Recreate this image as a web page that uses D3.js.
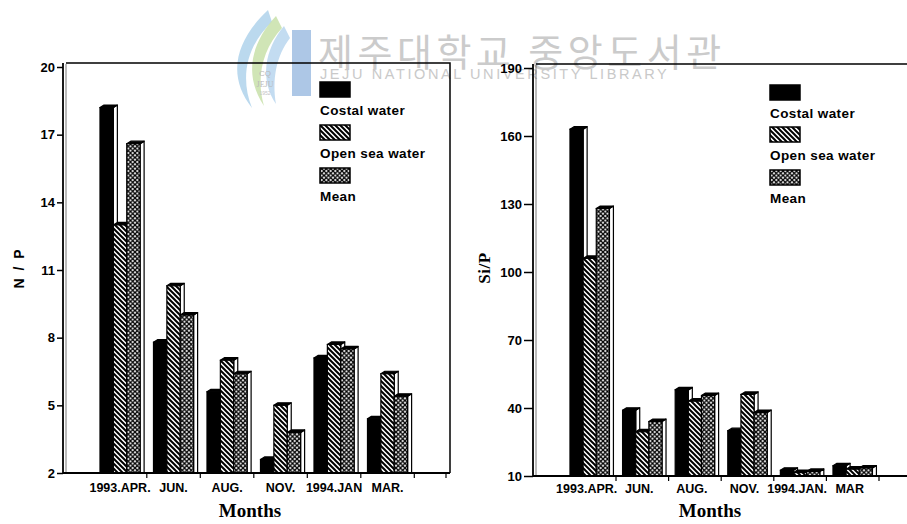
<!DOCTYPE html>
<html>
<head>
<meta charset="utf-8">
<script src="https://cdn.jsdelivr.net/npm/d3@7"></script>
<style>
  html, body { margin: 0; padding: 0; background: #fff; }
  svg { display: block; }
</style>
</head>
<body>
<svg id="chart" width="907" height="524"></svg>
<script>
// Sampling months (x categories) for each panel
const monthsNP = ["1993.APR.", "JUN.", "AUG.", "NOV.", "1994.JAN", "MAR."];
const monthsSi = ["1993.APR.", "JUN.", "AUG.", "NOV.", "1994.JAN.", "MAR"];
const seriesNames = ["Costal water", "Open sea water", "Mean"];

// N/P ratios
const npCostal = [18.2, 7.8, 5.6, 2.6, 7.1, 4.4];
const npOpen   = [13.0, 10.3, 7.0, 5.0, 7.7, 6.4];
const npMean   = [16.6, 9.0, 6.4, 3.8, 7.5, 5.4];

// Si/P ratios
const siCostal = [163, 39, 48, 30, 12.5, 14.5];
const siOpen   = [106, 29.5, 43, 46, 11.5, 13];
const siMean   = [128, 34, 45.5, 38, 12, 13.5];

// Y tick values
const npTicks = [2, 5, 8, 11, 14, 17, 20];
const siTicks = [10, 40, 70, 100, 130, 160, 190];

const svg = d3.select("#chart");
const defs = svg.append("defs");

// Fill patterns: solid, diagonal hatch, cross hatch
const hatch = defs.append("pattern").attr("id", "hatch")
  .attr("patternUnits", "userSpaceOnUse").attr("width", 5).attr("height", 5);
hatch.append("rect").attr("width", 5).attr("height", 5).attr("fill", "#fff");
hatch.append("path").attr("d", "M-1,-1L6,6M-1,4L1,6M4,-1L6,1")
  .attr("stroke", "#000").attr("stroke-width", 2);

const cross = defs.append("pattern").attr("id", "cross")
  .attr("patternUnits", "userSpaceOnUse").attr("width", 4.5).attr("height", 4.5);
cross.append("rect").attr("width", 4.5).attr("height", 4.5).attr("fill", "#fff");
cross.append("path").attr("d", "M0,0L4.5,4.5M4.5,0L0,4.5")
  .attr("stroke", "#000").attr("stroke-width", 1.3);

const fills = ["#000", "url(#hatch)", "url(#cross)"];

// ---- library watermark (drawn underneath the charts) ----
const wm = svg.append("g").attr("class", "watermark");
wm.append("path").attr("d", "M268,10 C236,40 226,75 252,108 C240,78 246,46 272,22 Z")
  .attr("fill", "#b4d5ec").attr("opacity", 0.9);
wm.append("path").attr("d", "M276,16 C250,44 244,76 264,106 C256,78 262,50 282,28 Z")
  .attr("fill", "#cbe2ae").attr("opacity", 0.9);
wm.append("path").attr("d", "M284,26 C264,50 260,80 276,104 C272,80 276,56 290,38 Z")
  .attr("fill", "#bcd8f0").attr("opacity", 0.9);
wm.append("rect").attr("x", 292).attr("y", 30).attr("width", 19).attr("height", 66)
  .attr("fill", "#adc7e6");
wm.append("text").attr("x", 265).attr("y", 76).attr("text-anchor", "middle")
  .attr("font-family", "Liberation Sans").attr("font-size", 8).attr("fill", "#b9b9b9").text("CQ");
wm.append("text").attr("x", 265).attr("y", 87).attr("text-anchor", "middle")
  .attr("font-family", "Liberation Serif").attr("font-size", 8).attr("fill", "#b9b9b9").text("JEJU");
wm.append("text").attr("x", 265).attr("y", 95).attr("text-anchor", "middle")
  .attr("font-family", "Liberation Sans").attr("font-size", 5).attr("fill", "#c4c4c4").text("1952");
wm.append("text").attr("x", 318).attr("y", 66)
  .attr("font-family", "Noto Sans CJK KR").attr("font-weight", 400)
  .attr("font-size", 38).attr("letter-spacing", 4.5).attr("fill", "#cbcbcb")
  .text("제주대학교 중앙도서관");
wm.append("text").attr("x", 320).attr("y", 79)
  .attr("font-family", "Liberation Sans").attr("font-size", 14.5)
  .attr("letter-spacing", 2.6).attr("fill", "#c9c9c9")
  .text("JEJU NATIONAL UNIVERSITY LIBRARY");

// ---- one bar-chart panel ----
function drawPanel(cfg) {
  const g = svg.append("g");
  const y = d3.scaleLinear().domain(cfg.domain).range([cfg.yBottom, cfg.yTop]);
  const x = d3.scaleBand().domain(cfg.months).range(cfg.xRange)
    .paddingInner(0.25).paddingOuter(0.125);
  const xs = d3.scaleBand().domain(seriesNames).range([0, x.bandwidth()]);
  const y0 = y(cfg.domain[0]);
  const dx = 4, dy = 2.5;

  // frame (top and right edges)
  g.append("path")
    .attr("d", `M${cfg.axisX + 3},${cfg.yTop - 4}H${cfg.frameRight}V${y0}`)
    .attr("fill", "none").attr("stroke", "#000").attr("stroke-width", 1.5);

  // bars with a shallow 3D side and top face
  cfg.months.forEach((m, i) => {
    cfg.series.forEach((vals, s) => {
      const bx = x(m) + xs(seriesNames[s]);
      const w = xs.bandwidth();
      const by = y(vals[i]);
      const bg = g.append("g");
      bg.append("path")
        .attr("d", `M${bx + w},${by}L${bx + w + dx},${by - dy}V${y0}H${bx + w}Z`)
        .attr("fill", "#fff").attr("stroke", "#000").attr("stroke-width", 1.2)
        .attr("stroke-linejoin", "round");
      bg.append("path")
        .attr("d", `M${bx},${by}L${bx + dx},${by - dy}H${bx + w + dx}L${bx + w},${by}Z`)
        .attr("fill", "#000").attr("stroke", "#000").attr("stroke-width", 1.2)
        .attr("stroke-linejoin", "round");
      bg.append("rect").attr("x", bx).attr("y", by).attr("width", w).attr("height", y0 - by)
        .attr("fill", fills[s]).attr("stroke", "#000").attr("stroke-width", 1.2);
    });
  });

  // y axis (double rule with ticks on the left)
  const yAxis = d3.axisLeft(y).tickValues(cfg.ticks).tickSize(cfg.tickLen).tickPadding(2)
    .tickFormat(d3.format("d"));
  const ya = g.append("g").attr("transform", `translate(${cfg.axisX},0)`).call(yAxis);
  ya.select(".domain").remove();
  ya.selectAll(".tick line").attr("stroke-width", 1.5);
  ya.selectAll("text").attr("font-family", "Liberation Sans").attr("font-weight", "bold")
    .attr("font-size", 13).attr("fill", "#000");
  g.append("line").attr("x1", cfg.axisX).attr("x2", cfg.axisX)
    .attr("y1", cfg.yTop - 4).attr("y2", y0 + 1)
    .attr("stroke", "#000").attr("stroke-width", 1.8);
  g.append("line").attr("x1", cfg.axisX + 3).attr("x2", cfg.axisX + 3)
    .attr("y1", cfg.yTop - 3).attr("y2", y0)
    .attr("stroke", "#555").attr("stroke-width", 0.8);

  // x baseline with tick marks between month groups
  g.append("line").attr("x1", cfg.axisX).attr("x2", cfg.frameRight)
    .attr("y1", y0).attr("y2", y0).attr("stroke", "#000").attr("stroke-width", 2.2);
  const step = x.step();
  const tickXs = d3.range(1, cfg.months.length + 1).map(k => cfg.xRange[0] + k * step);
  if (cfg.endTick) tickXs.push(cfg.endTick);
  g.selectAll(".xt").data(tickXs).join("line")
    .attr("x1", d => d).attr("x2", d => d).attr("y1", y0).attr("y2", y0 + 5)
    .attr("stroke", "#000").attr("stroke-width", 1.2);
  g.selectAll(".xl").data(cfg.months).join("text")
    .attr("x", d => x(d) + x.bandwidth() / 2 + cfg.labelShift)
    .attr("y", y0 + cfg.labelDy).attr("text-anchor", "middle")
    .attr("font-family", "Liberation Sans").attr("font-weight", "bold")
    .attr("font-size", 12.5).text(d => d);

  // axis titles
  g.append("text").attr("x", cfg.monthsX).attr("y", 517).attr("text-anchor", "middle")
    .attr("font-family", "Liberation Serif").attr("font-weight", "bold")
    .attr("font-size", 19).text("Months");
  g.append("text")
    .attr("transform", `translate(${cfg.titleX},${cfg.titleY}) rotate(-90)`)
    .attr("text-anchor", "middle").attr("font-family", cfg.titleFont)
    .attr("font-weight", "bold").attr("font-size", cfg.titleSize)
    .attr("letter-spacing", cfg.titleSpacing).text(cfg.title);

  // legend
  const lg = g.append("g");
  seriesNames.forEach((name, s) => {
    lg.append("rect").attr("x", cfg.legendX).attr("y", cfg.legendY[s])
      .attr("width", 30).attr("height", 15)
      .attr("fill", fills[s]).attr("stroke", "#000").attr("stroke-width", 1.5);
    lg.append("text").attr("x", cfg.legendX).attr("y", cfg.legendY[s] + 33)
      .attr("font-family", "Liberation Sans").attr("font-weight", "bold")
      .attr("font-size", 13.5).attr("letter-spacing", 0.4).text(name);
  });
}

drawPanel({
  months: monthsNP,
  series: [npCostal, npOpen, npMean],
  domain: [2, 20], ticks: npTicks,
  yTop: 67, yBottom: 473,
  xRange: [93.3, 414.3],
  axisX: 63, frameRight: 450, endTick: 446, tickLen: 6,
  labelShift: 0, labelDy: 19,
  monthsX: 250,
  title: "N / P", titleX: 24, titleY: 268, titleFont: "Liberation Sans",
  titleSize: 14, titleSpacing: 2,
  legendX: 320, legendY: [82, 125, 168]
});

drawPanel({
  months: monthsSi,
  series: [siCostal, siOpen, siMean],
  domain: [10, 190], ticks: siTicks,
  yTop: 68, yBottom: 476,
  xRange: [563.4, 879],
  axisX: 533, frameRight: 912, endTick: null, tickLen: 9,
  labelShift: -3, labelDy: 17,
  monthsX: 710,
  title: "Si/P", titleX: 490, titleY: 268, titleFont: "Liberation Serif",
  titleSize: 17, titleSpacing: 0.5,
  legendX: 770, legendY: [85, 127, 170]
});
</script>
</body>
</html>
